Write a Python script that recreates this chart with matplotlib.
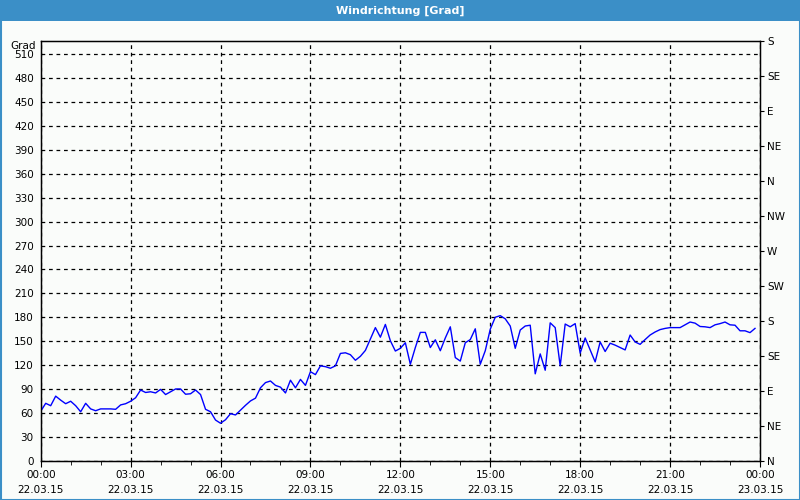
import matplotlib
matplotlib.use("Agg")
import matplotlib.pyplot as plt
import matplotlib.dates as mdates
from matplotlib.patches import Rectangle
import pandas as pd

title = "Windrichtung [Grad]"
y_unit = "Grad"
start = "2015-03-22 00:00"
end = "2015-03-23 00:00"
left_ticks = list(range(0, 511, 30))
right_ticks = list(range(0, 541, 45))
right_labels = ["N", "NE", "E", "SE", "S", "SW", "W", "NW", "N", "NE", "E", "SE", "S"]

direction = [
    62, 72, 69, 81, 76, 71.5, 74.6, 69, 61.4, 72, 65, 62.7, 65, 65, 65, 64.5, 70, 71.5,
    74.6, 79, 88.7, 85.6, 86.5, 85, 89.5, 83, 86.5, 90, 90, 83.4, 84, 88.7, 83, 64.5, 61.4, 51,
    47, 51.4, 59, 57.4, 63.4, 69.5, 75, 78.5, 91.5, 98, 100, 94.5, 92.3, 85, 101, 91.5, 102, 94.5,
    111.7, 108, 119, 118, 116, 119, 134.6, 135.4, 133, 126, 131, 138.4, 152.7, 167, 155, 171, 150.5, 137.6,
    141, 148, 121, 142, 161, 161, 142, 151.7, 138, 154, 168, 129.4, 125, 148, 152, 165.5, 121, 138,
    165, 180, 182, 178, 169, 141, 164, 169, 170, 109, 134, 113.5, 173, 167, 119, 171.5, 168, 172,
    135, 154, 139, 124, 149, 137, 147.4, 145, 142, 139, 157.7, 149, 146, 152, 157.7, 161.5, 164.5, 166,
    167, 167, 167, 170.5, 174, 172.6, 168.4, 168, 167, 170.5, 172, 174, 170.5, 170, 163, 163, 160.7, 166,
]
times = pd.date_range(start, periods=len(direction), freq="10min")

font = "DejaVu Sans"
fs = 7.5

fig = plt.figure(figsize=(8, 5), dpi=100)
fig.patch.set_facecolor("#FAFCFA")

# title bar and border
fig.add_artist(Rectangle((0, 1 - 21 / 500), 1, 21 / 500, transform=fig.transFigure,
                         facecolor="#3B8FC7", edgecolor="none", zorder=0))
fig.add_artist(Rectangle((0.5 / 800, 0.5 / 500), 1 - 1 / 800, 1 - 1 / 500, transform=fig.transFigure,
                         facecolor="none", edgecolor="#3B8FC7", linewidth=1.5, zorder=0))
fig.text(0.5, 1 - 10.5 / 500, title, ha="center", va="center", color="white",
         fontsize=8, fontweight="bold", family=font)

ax = fig.add_axes([40.7 / 800, 1 - 460.7 / 500, (760 - 40.7) / 800, (460.7 - 40.7) / 500])
ax.set_facecolor("#FAFCFA")
ax.plot(times, direction, color="#0000FF", linewidth=1.0, zorder=3)

ax.set_xlim(pd.Timestamp(start), pd.Timestamp(end))
ax.set_ylim(0, 527)
ax.set_yticks(left_ticks)
ax.set_yticklabels([str(t) for t in left_ticks], family=font, fontsize=fs)
ax.tick_params(axis="y", length=0, pad=5)

ax.xaxis.set_major_locator(mdates.HourLocator(byhour=range(0, 24, 3)))
ax.xaxis.set_minor_locator(mdates.HourLocator())
ax.xaxis.set_major_formatter(mdates.DateFormatter("%H:%M\n%d.%m.%y"))
ax.tick_params(axis="x", which="major", length=4, pad=3, labelsize=fs, direction="out")
ax.tick_params(axis="x", which="minor", length=3, direction="out")
for lab in ax.get_xticklabels():
    lab.set_family(font)
    lab.set_linespacing(1.55)

ax.grid(True, which="major", color="black", linestyle=(0, (3, 3)), linewidth=0.9)
for s in ax.spines.values():
    s.set_color("black")
    s.set_linewidth(1)

ax2 = ax.twinx()
ax2.set_ylim(0, 540)
ax2.set_yticks(right_ticks)
ax2.set_yticklabels(right_labels, family=font, fontsize=fs)
ax2.tick_params(axis="y", length=3, pad=2)
for s in ax2.spines.values():
    s.set_color("black")

fig.text(36 / 800, 1 - 46 / 500, y_unit, ha="right", va="center", fontsize=fs, family=font)

fig.savefig("out.png", dpi=100, facecolor=fig.get_facecolor())
